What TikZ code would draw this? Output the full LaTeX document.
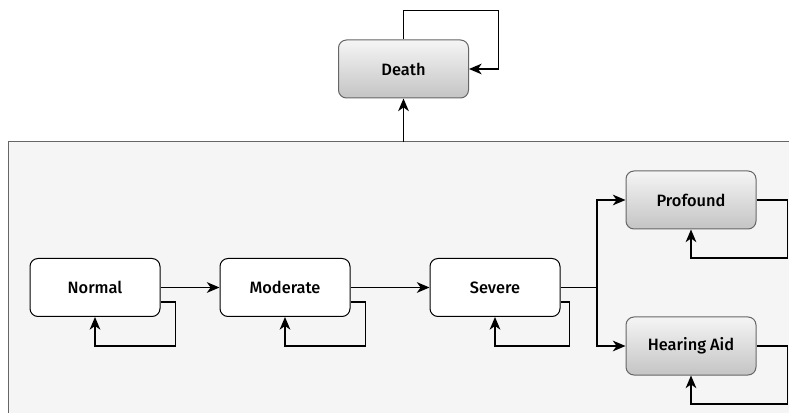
\documentclass[tikz,border=0pt]{standalone}
\usepackage{fontspec}
\setmainfont{Fira Sans}
\newfontfamily\labelfont{Fira Sans Medium}
\usepackage{tikz}
\usetikzlibrary{arrows.meta,positioning}
\definecolor{frame}{HTML}{666666}
\definecolor{panelbg}{HTML}{F5F5F5}
\definecolor{shadetop}{HTML}{F5F5F5}
\definecolor{shadebot}{HTML}{C4C4C4}

\begin{document}
\begin{tikzpicture}[
  x=0.75pt,y=-0.75pt,
  font=\labelfont\fontsize{12.3}{14}\selectfont,
  state/.style={draw=black,rounded corners=6pt,fill=white,line width=0.75pt,minimum width=97.5pt,minimum height=43.5pt,inner sep=2pt},
  absorb/.style={state,draw=frame,top color=shadetop,bottom color=shadebot},
  arr/.style={-{Stealth[length=9.5pt,width=8pt,inset=2.8pt]},line width=1.1pt,black},
  link/.style={line width=1.1pt,black}]
\useasboundingbox (0,0) rectangle (789,413);
\clip (0,0) rectangle (789,413);
\fill[white] (0,0) rectangle (789,413);
% health states panel
\draw[frame,fill=panelbg,line width=0.75pt] (8,142) rectangle (810,430);
\coordinate (ptop) at (403.5,142);
\node[absorb] (death) at (403.5,69) {Death};
\node[state] (normal) at (95,287.5) {Normal};
\node[state,right=44.25pt of normal] (moderate) {Moderate};
\node[state,right=59.25pt of moderate] (severe) {Severe};
\node[absorb] (profound) at (691,200) {Profound};
\node[absorb] (aid) at (691,346) {Hearing Aid};
\coordinate (split) at (597,287.5);
% progression
\draw[arr] (normal) -- (moderate);
\draw[arr] (moderate) -- (severe);
\draw[link] (severe) -- (split);
\draw[arr] (split) |- (profound.west);
\draw[arr] (split) |- (aid.west);
\draw[arr] (ptop) -- (death);
% self loops
\draw[arr] (death.north) |- ++(95,-29) |- (death.east);
\draw[arr] ([yshift=-11pt]normal.east) -- ++(15,0) -- ++(0,44) -| (normal.south);
\draw[arr] ([yshift=-11pt]moderate.east) -- ++(15,0) -- ++(0,44) -| (moderate.south);
\draw[arr] ([yshift=-11pt]severe.east) -- ++(9,0) -- ++(0,44) -| (severe.south);
\draw[arr] (profound.east) -- ++(31,0) -- ++(0,58) -| (profound.south);
\draw[arr] (aid.east) -- ++(31,0) -- ++(0,58) -| (aid.south);
\end{tikzpicture}
\end{document}
